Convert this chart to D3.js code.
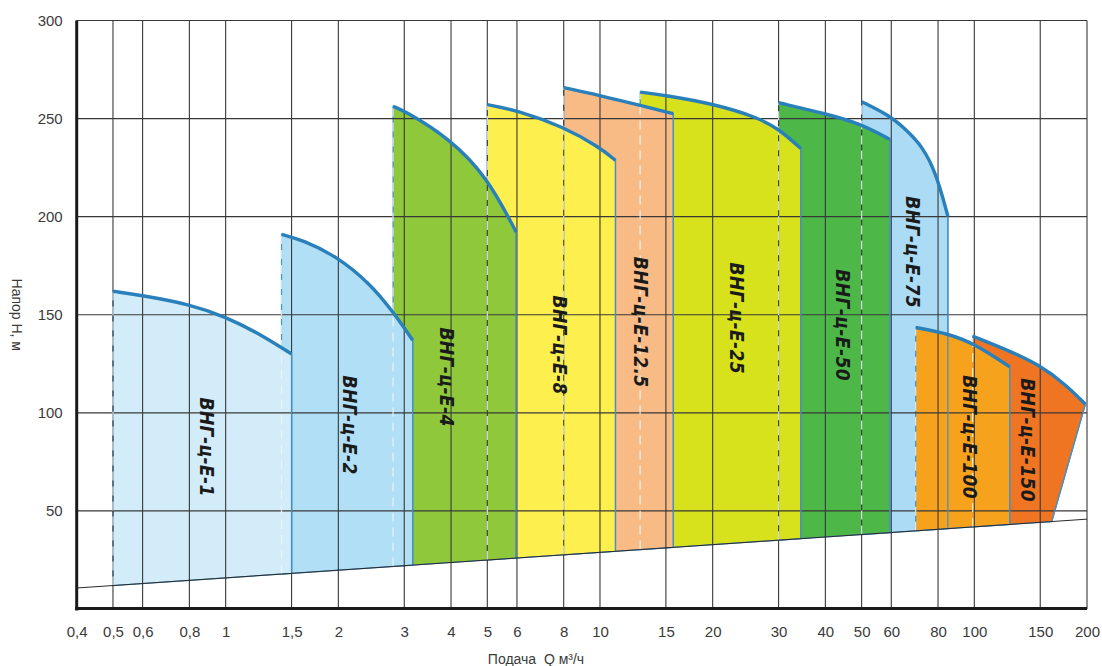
<!DOCTYPE html>
<html>
<head>
<meta charset="utf-8">
<script src="https://cdn.jsdelivr.net/npm/d3@7"></script>
<style>
  body { margin: 0; background: #fff; }
  svg { display: block; }
  .tick text { font-family: "Liberation Sans", Arial, sans-serif; font-size: 15px; fill: #3a3a3a; }
  .pumpLabel { font-family: "DejaVu Sans Condensed", "DejaVu Sans", sans-serif; font-stretch: condensed;
               font-weight: bold; font-style: italic; font-size: 19px; fill: #1a1a1a; letter-spacing: 0.4px; }
  .axisTitle { font-family: "Liberation Sans", Arial, sans-serif; font-size: 14px; fill: #3a3a3a; }
</style>
</head>
<body>
<svg id="chart" width="1102" height="666"></svg>
<script>
// ---- data
var xTicks = [0.4, 0.5, 0.6, 0.8, 1, 1.5, 2, 3, 4, 5, 6, 8, 10, 15, 20, 30, 40, 50, 60, 80, 100, 150, 200];
var yTicks = [50, 100, 150, 200, 250, 300];

// lower limit line (H at both ends of the Q axis)
var baseQ = [0.4, 200];
var baseH = [10.7, 45.8];

var pumpNames = ["ВНГ-ц-Е-1", "ВНГ-ц-Е-2", "ВНГ-ц-Е-4", "ВНГ-ц-Е-8", "ВНГ-ц-Е-12.5",
                 "ВНГ-ц-Е-25", "ВНГ-ц-Е-50", "ВНГ-ц-Е-75", "ВНГ-ц-Е-100", "ВНГ-ц-Е-150"];

// head curve of each pump: [Q, H]
var pumpCurves = [
  [[0.5, 162], [0.6, 159.8], [0.8, 155.4], [1, 149], [1.24, 140], [1.5, 130]],
  [[1.41, 191], [1.61, 188], [1.98, 179.8], [2.43, 165.9], [2.8, 151.5], [3.16, 137]],
  [[2.8, 256.2], [3, 254], [3.96, 240], [5, 220.2], [5.97, 192.2]],
  [[5, 257.1], [6, 254.2], [8, 245.8], [10, 235.2], [11, 228.7]],
  [[8, 265.8], [10, 261.8], [12.84, 256.7], [15.7, 252.5]],
  [[12.8, 263.5], [15, 261.8], [20, 257.6], [26.2, 250.8], [30, 244.9], [34.4, 234.7]],
  [[30, 258.1], [40, 252.5], [49.7, 247.4], [59.5, 239.4]],
  [[50, 258.6], [59.5, 251.5], [66, 244], [72.5, 236], [79, 222.5], [85, 200.2]],
  [[69.7, 143.5], [85, 140.4], [100, 135.3], [124.4, 123.4]],
  [[99, 139.1], [121, 132.5], [150, 124.3], [176, 114.1], [198, 104.4]]
];
// where the right edge of each field meets the lower limit line
var pumpFootQ = [1.5, 3.16, 5.97, 11, 15.7, 34.4, 59.5, 85, 124.4, 161];

// label anchor of each field [Q, H]
var labelQ = [0.89, 2.15, 3.9, 7.82, 12.86, 23.2, 44.6, 68.5, 97.3, 139];
var labelH = [82.5, 93.7, 118.2, 134.5, 146.2, 148.2, 144.7, 181.9, 87.6, 86.1];

// ---- styles
var pumpColors = ["#d2ecf9", "#b1dff6", "#8fc83b", "#fdef4e", "#f8bb85",
                  "#d8e21c", "#4db847", "#acdcf5", "#f6a21d", "#ef7522"];
// bottom-to-top order of the fields
var drawOrder = [7, 9, 8, 6, 5, 4, 3, 2, 1, 0];

var svg = d3.select("#chart");
var x = d3.scaleLog().domain([0.4, 200]).range([76.7, 1087]);
var y = d3.scaleLinear().domain([0, 300]).range([609, 20.5]);

function baseAt(q) {
  var t = (Math.log(q) - Math.log(baseQ[0])) / (Math.log(baseQ[1]) - Math.log(baseQ[0]));
  return baseH[0] + t * (baseH[1] - baseH[0]);
}

var curveLine = d3.line()
  .x(function(d) { return x(d[0]); })
  .y(function(d) { return y(d[1]); })
  .curve(d3.curveBasis);

// fields
var gFill = svg.append("g");
drawOrder.forEach(function(i) {
  var pts = pumpCurves[i];
  var q0 = pts[0][0], qf = pumpFootQ[i];
  var d = "M" + x(q0) + "," + y(baseAt(q0)) + "L" + curveLine(pts).slice(1) +
          "L" + x(qf) + "," + y(baseAt(qf)) + "Z";
  gFill.append("path")
    .attr("d", d)
    .style("fill", pumpColors[i])
    .style("stroke", "#4a92c4")
    .style("stroke-width", 1.2);
});

// grid
var gGrid = svg.append("g").style("stroke", "#383838").style("stroke-width", 1.1);
gGrid.selectAll(".vGrid").data(xTicks).enter().append("line")
  .attr("x1", function(d) { return x(d); }).attr("x2", function(d) { return x(d); })
  .attr("y1", y(0)).attr("y2", y(300));
gGrid.selectAll(".hGrid").data(yTicks).enter().append("line")
  .attr("x1", x(0.4)).attr("x2", x(200))
  .attr("y1", function(d) { return y(d); }).attr("y2", function(d) { return y(d); });

// edges: dashed left, solid right
var gEdge = svg.append("g");
pumpCurves.forEach(function(pts, i) {
  var q0 = pts[0][0], last = pts[pts.length - 1], qf = pumpFootQ[i];
  gEdge.append("line")
    .attr("x1", x(q0)).attr("x2", x(q0))
    .attr("y1", y(baseAt(q0))).attr("y2", y(pts[0][1]))
    .style("stroke", "#eef4f8").style("stroke-opacity", 0.85)
    .style("stroke-width", 1.3).style("stroke-dasharray", "9,6");
  gEdge.append("line")
    .attr("x1", x(last[0])).attr("x2", x(qf))
    .attr("y1", y(last[1])).attr("y2", y(baseAt(qf)))
    .style("stroke", "#4a8fbf").style("stroke-width", 1.3);
});

// head curves
drawOrder.forEach(function(i) {
  svg.append("path")
    .attr("d", curveLine(pumpCurves[i]))
    .style("fill", "none")
    .style("stroke", "#2a80ba")
    .style("stroke-width", 3.4)
    .style("stroke-linecap", "butt");
});

// lower limit line
svg.append("line")
  .attr("x1", x(baseQ[0])).attr("y1", y(baseH[0]))
  .attr("x2", x(baseQ[1])).attr("y2", y(baseH[1]))
  .style("stroke", "#2a2a2a").style("stroke-width", 1);

// labels
svg.selectAll(".pumpLabel").data(pumpNames).enter().append("text")
  .attr("class", "pumpLabel")
  .attr("text-anchor", "middle")
  .attr("dy", "0.35em")
  .attr("transform", function(d, i) {
    return "translate(" + x(labelQ[i]) + "," + y(labelH[i]) + ") rotate(90)";
  })
  .text(function(d) { return d; });

// axes
var xAxis = d3.axisBottom(x).tickValues(xTicks).tickSize(0).tickPadding(17)
  .tickFormat(function(d) { return String(d).replace(".", ","); });
var gx = svg.append("g").attr("transform", "translate(0," + y(0) + ")").call(xAxis);
gx.select(".domain").remove();

var yAxis = d3.axisLeft(y).tickValues(yTicks).tickSize(0).tickPadding(14);
var gy = svg.append("g").attr("transform", "translate(" + x(0.4) + ",0)").call(yAxis);
gy.select(".domain").remove();

svg.append("line")
  .attr("x1", x(0.4)).attr("x2", x(0.4)).attr("y1", y(300)).attr("y2", y(0) + 1.5)
  .style("stroke", "#1a1a1a").style("stroke-width", 3);
svg.append("line")
  .attr("x1", x(0.4) - 1.5).attr("x2", x(200)).attr("y1", y(0) - 0.5).attr("y2", y(0) - 0.5)
  .style("stroke", "#1a1a1a").style("stroke-width", 3);

svg.append("text").attr("class", "axisTitle")
  .attr("x", 536).attr("y", 664).attr("text-anchor", "middle")
  .text("Подача\u00a0 Q м³/ч");
svg.append("text").attr("class", "axisTitle")
  .attr("text-anchor", "middle").attr("dy", "0.35em")
  .attr("transform", "translate(17," + y(150) + ") rotate(90)")
  .text("Напор Н, м");
</script>
</body>
</html>
